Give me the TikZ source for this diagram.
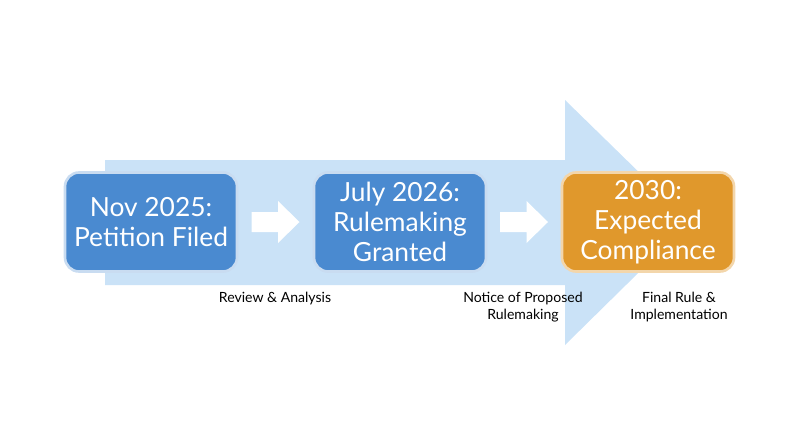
\documentclass[tikz,border=0pt]{standalone}
\usepackage{fontspec}
\setmainfont{Lato}
\usetikzlibrary{positioning}
\definecolor{stepblue}{HTML}{4A8AD0}
\definecolor{steporange}{HTML}{E0982C}
\definecolor{flowblue}{HTML}{C4DFF6}
\tikzset{%
  stage/.style = {shape=rectangle, rounded corners=8pt, draw=white!70!stepblue,%
                  line width=1.5pt, fill=stepblue, text=white, align=center,%
                  minimum width=3.44cm, minimum height=1.98cm, font=\fontsize{15}{17}\selectfont},%
  final/.style = {stage, fill=steporange, draw=white!60!steporange},%
  note/.style  = {align=center, font=\fontsize{8}{9.5}\selectfont},%
  link/.style  = {fill=white, draw=none}%
}
\begin{document}
\begin{tikzpicture}
  \useasboundingbox (0,0) rectangle (16,8.94);
  % background arrow
  \fill[flowblue, opacity=0.9] (2.1,5.74) -- (11.3,5.74) -- (11.3,6.94) -- (13.8,4.5)
    -- (11.3,2.04) -- (11.3,3.24) -- (2.1,3.24) -- cycle;
  % stages
  \node[stage] (petition) at (3.02,4.5) {Nov 2025:\\Petition Filed};
  \node[stage] (granted)  at (8.0,4.5)  {July 2026:\\Rulemaking\\Granted};
  \node[final] (comply)   at (12.96,4.5) {2030:\\Expected\\Compliance};
  % small arrows
  \foreach \a/\b in {petition/granted, granted/comply}{
    \path (\a.east) -- (\b.west) coordinate[pos=0.5] (m);
    \fill[link] ([xshift=-0.48cm,yshift=0.2cm]m) -- ([xshift=0.05cm,yshift=0.2cm]m)
      -- ([xshift=0.05cm,yshift=0.42cm]m) -- ([xshift=0.48cm]m)
      -- ([xshift=0.05cm,yshift=-0.42cm]m) -- ([xshift=0.05cm,yshift=-0.2cm]m)
      -- ([xshift=-0.48cm,yshift=-0.2cm]m) -- cycle;
  }
  % notes
  \node[note] (review) at (5.5,2.96)  {Review \& Analysis};
  \node[note] (nprm)   at (10.46,2.8) {Notice of Proposed\\Rulemaking};
  \node[note] (rule)   at (13.58,2.8) {Final Rule \&\\Implementation};
\end{tikzpicture}
\end{document}
